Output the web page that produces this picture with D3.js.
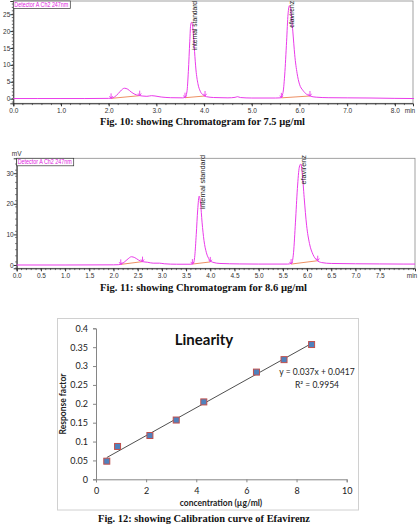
<!DOCTYPE html>
<html>
<head>
<meta charset="utf-8">
<script src="https://cdn.jsdelivr.net/npm/d3@7"></script>
<style>
body{margin:0;background:#fff;}
svg{display:block;}
</style>
</head>
<body>
<svg id="fig" width="420" height="524"></svg>
<script>

// chromatogram for 7.5 ug/ml : [time (min), signal (mV)]
var trace75=[[0,0.05],[0.5,0.05],[1.0,0.05],[1.5,0.05],[2.0,0.1],[2.05,0.15],[2.12,0.5],[2.2,1.5],[2.27,2.6],[2.33,3.1],[2.4,2.8],
	[2.47,2.0],[2.55,1.3],[2.62,1.0],[2.7,0.8],[2.8,0.7],[2.9,0.9],[2.97,0.8],[3.1,0.5],[3.3,0.3],[3.55,0.25],[3.6,0.4],
	[3.64,2],[3.67,8],[3.7,17],[3.72,22],[3.74,22.6],[3.77,20],[3.8,14],[3.83,8.5],[3.87,4.5],[3.92,2.2],[3.98,1.1],[4.05,0.6],
	[4.2,0.35],[4.5,0.25],[4.65,0.4],[4.7,0.6],[4.76,0.35],[5.0,0.2],[5.5,0.2],[5.6,0.25],[5.65,1.5],[5.69,7],[5.73,17],
	[5.76,25],[5.79,27.5],[5.82,26],[5.86,20],[5.9,13],[5.95,7.5],[6.0,4.3],[6.07,2.5],[6.15,1.3],[6.22,0.8],[6.35,0.45],
	[6.6,0.3],[7.0,0.25],[7.5,0.2],[8.0,0.1],[8.4,0.05]];
// integration start / end points
var events75=[[[2.05,0.1],[2.65,0.9]],[[3.6,0.3],[4.02,0.8]],[[5.62,0.25],[6.22,0.8]]];
var peakNames75=["internal standard","efavirenz"];
var peakTimes75=[3.79,5.84];
var xTicks75=[0,1,2,3,4,5,6,7,8];
var yTicks75=[0,5,10,15,20,25];

// chromatogram for 8.6 ug/ml
var trace86=[[0,0],[1,0],[2,0.05],[2.1,0.1],[2.15,0.2],[2.22,0.9],[2.3,2.0],[2.37,2.7],[2.44,2.4],[2.52,1.6],[2.6,1.1],
	[2.7,0.9],[2.82,0.6],[2.95,0.6],[3.05,0.4],[3.3,0.25],[3.6,0.25],[3.65,0.5],[3.68,3],[3.71,10],[3.74,18],[3.77,22.5],
	[3.8,20],[3.83,14],[3.87,8],[3.92,4],[3.98,1.8],[4.05,0.9],[4.2,0.5],[4.6,0.35],[5.0,0.3],[5.6,0.3],[5.68,0.6],[5.72,4],
	[5.76,14],[5.8,25],[5.84,32],[5.87,33],[5.9,30],[5.94,22],[5.99,13],[6.05,7],[6.12,3.5],[6.2,1.6],[6.3,0.8],[6.5,0.5],
	[7.0,0.4],[7.5,0.35],[8.0,0.3],[8.23,0.3]];
var events86=[[[2.15,0.2],[2.6,1.1]],[[3.63,0.3],[4.0,1.0]],[[5.67,0.3],[6.22,1.4]]];
var peakNames86=["internal standard","efavirenz"];
var peakTimes86=[3.83,5.93];
var xTicks86=[0,0.5,1,1.5,2,2.5,3,3.5,4,4.5,5,5.5,6,6.5,7,7.5];
var yTicks86=[0,10,20,30];

// calibration curve
var concs=[0.43,0.86,2.15,3.2,4.3,6.4,7.5,8.6];
var respFactor=[0.048,0.087,0.116,0.157,0.205,0.284,0.317,0.357];
var fitSlope=0.037, fitIntercept=0.0417;
var calXTicks=[0,2,4,6,8,10];
var calYTicks=[0,0.05,0.1,0.15,0.2,0.25,0.3,0.35,0.4];
var calYLabels=["0","0.05","0.1","0.15","0.2","0.25","0.3","0.35","0.4"];

var captions=["Fig. 10: showing Chromatogram for 7.5 µg/ml","Fig. 11: showing Chromatogram for 8.6 µg/ml","Fig. 12: showing Calibration curve of Efavirenz"];

var svg=d3.select("#fig");
var chromFont="Liberation Sans, Arial, sans-serif";
var magenta="#ea3bea";

var chromPlot=function(cfg)
	{
	var g=svg.append("g");
	var x=d3.scaleLinear().domain(cfg.xDom).range([cfg.left,cfg.right]);
	var y=d3.scaleLinear().domain(cfg.yDom).range([cfg.bottom,cfg.top]);

	g.append("rect")
		.attr("x",cfg.left).attr("y",cfg.top)
		.attr("width",cfg.right-cfg.left).attr("height",cfg.bottom-cfg.top)
		.attr("fill","none").attr("stroke","#8a8a8a").attr("stroke-width",0.8);

	// y axis
	var ya=g.append("g").attr("transform","translate("+cfg.left+",0)")
		.call(d3.axisLeft(y).tickValues(cfg.yTicks).tickSize(3).tickFormat(d3.format("d")));
	ya.select(".domain").attr("stroke","#333");
	ya.selectAll("line").attr("stroke","#333");
	ya.selectAll("text").attr("font-family",chromFont).attr("font-size",6.5).attr("fill","#333").attr("x",-3);
	var yMinor=d3.range(Math.ceil(cfg.yDom[0]),cfg.yDom[1],cfg.yMinor);
	g.selectAll(".yminor").data(yMinor).enter().append("line")
		.attr("x1",cfg.left-1.5).attr("x2",cfg.left)
		.attr("y1",function(d){return y(d);}).attr("y2",function(d){return y(d);})
		.attr("stroke","#333").attr("stroke-width",0.7);

	// x axis
	var xa=g.append("g").attr("transform","translate(0,"+cfg.bottom+")")
		.call(d3.axisBottom(x).tickValues(cfg.xTicks).tickSize(3).tickFormat(d3.format(".1f")));
	xa.select(".domain").attr("stroke","#333");
	xa.selectAll("line").attr("stroke","#333");
	xa.selectAll("text").attr("font-family",chromFont).attr("font-size",6.5).attr("fill","#333").attr("y",5);
	var xMinor=d3.range(0,cfg.xDom[1],cfg.xMinor);
	g.selectAll(".xminor").data(xMinor).enter().append("line")
		.attr("x1",function(d){return x(d);}).attr("x2",function(d){return x(d);})
		.attr("y1",cfg.bottom).attr("y2",cfg.bottom+1.8)
		.attr("stroke","#333").attr("stroke-width",0.7);
	g.append("text").attr("x",cfg.right-3).attr("y",cfg.bottom+9.5)
		.attr("text-anchor","middle").attr("font-family",chromFont).attr("font-size",6.5).attr("fill","#333").text("min");
	if(cfg.unit)
		{
		g.append("text").attr("x",cfg.left).attr("y",cfg.top-2)
			.attr("text-anchor","middle").attr("font-family",chromFont).attr("font-size",6.5).attr("fill","#333").text(cfg.unit);
		}

	// integration baselines
	g.selectAll(".ibase").data(cfg.events).enter().append("line")
		.attr("x1",function(d){return x(d[0][0]);}).attr("y1",function(d){return y(d[0][1]);})
		.attr("x2",function(d){return x(d[1][0]);}).attr("y2",function(d){return y(d[1][1]);})
		.attr("stroke","#e8743c").attr("stroke-width",0.8);

	// signal
	var line=d3.line().x(function(d){return x(d[0]);}).y(function(d){return y(d[1]);}).curve(d3.curveMonotoneX);
	g.append("path").datum(cfg.trace).attr("d",line)
		.attr("fill","none").attr("stroke",magenta).attr("stroke-width",1);

	// event markers (small down arrows)
	var pts=[];
	cfg.events.forEach(function(e){ pts.push(e[0]); pts.push(e[1]); });
	g.selectAll(".evt").data(pts).enter().append("path")
		.attr("d",function(d){
			var px=x(d[0]), py=y(d[1]);
			return "M"+px+","+(py-5)+"L"+px+","+py+"M"+(px-1.6)+","+(py-2.2)+"L"+px+","+py+"L"+(px+1.6)+","+(py-2.2);
			})
		.attr("fill","none").attr("stroke",magenta).attr("stroke-width",0.9);

	// peak names
	g.selectAll(".pname").data(cfg.peakNames).enter().append("text")
		.attr("transform",function(d,i){ return "translate("+(x(cfg.peakTimes[i])+2.5)+","+cfg.labelTop+") rotate(-90)"; })
		.attr("text-anchor","end")
		.attr("font-family",chromFont).attr("font-size",cfg.labelSize).attr("fill","#222")
		.text(function(d){return d;});

	// detector legend box
	g.append("rect").attr("x",cfg.left).attr("y",cfg.top).attr("width",57).attr("height",7.5)
		.attr("fill","#fff").attr("stroke","#333").attr("stroke-width",0.7);
	g.append("text").attr("x",cfg.left+1).attr("y",cfg.top+6)
		.attr("font-family",chromFont).attr("font-size",6.3).attr("fill","#e020e0")
		.attr("textLength",54).attr("lengthAdjust","spacingAndGlyphs")
		.text("Detector A Ch2 247nm");
	};

chromPlot({
	left:13.3, right:413, top:1, bottom:103.3,
	xDom:[0,8.38], yDom:[-1.36,28.9],
	xTicks:xTicks75, yTicks:yTicks75, xMinor:0.2, yMinor:1,
	trace:trace75, events:events75, peakNames:peakNames75, peakTimes:peakTimes75,
	labelTop:1, labelSize:6.6, unit:null
	});

chromPlot({
	left:16.7, right:415, top:158.3, bottom:268.3,
	xDom:[0,8.23], yDom:[-1.08,34.87],
	xTicks:xTicks86, yTicks:yTicks86, xMinor:0.1, yMinor:2,
	trace:trace86, events:events86, peakNames:peakNames86, peakTimes:peakTimes86,
	labelTop:155, labelSize:7.3, unit:"mV"
	});

// calibration chart
var calFont="Lato, 'Open Sans', sans-serif";
var cg=svg.append("g");
cg.append("rect").attr("x",57.5).attr("y",318.5).attr("width",301).attr("height",191.5)
	.attr("fill","#fff").attr("stroke","#d0d0d0").attr("stroke-width",1);

var cx=d3.scaleLinear().domain([0,10]).range([96,346.7]);
var cy=d3.scaleLinear().domain([0,0.4]).range([479.3,328.3]);

var cya=cg.append("g").attr("transform","translate(96,0)")
	.call(d3.axisLeft(cy).tickValues(calYTicks).tickSize(3).tickFormat(function(d,i){return calYLabels[i];}));
cya.select(".domain").attr("stroke","#868686");
cya.selectAll("line").attr("stroke","#868686");
cya.selectAll("text").attr("font-family",calFont).attr("font-size",9).attr("fill","#222").attr("x",-8);

var cxa=cg.append("g").attr("transform","translate(0,479.3)")
	.call(d3.axisBottom(cx).tickValues(calXTicks).tickSize(3).tickFormat(d3.format("d")));
cxa.select(".domain").attr("stroke","#868686");
cxa.selectAll("line").attr("stroke","#868686");
cxa.selectAll("text").attr("font-family",calFont).attr("font-size",9).attr("fill","#222").attr("y",8);

cg.append("text").attr("x",204).attr("y",344.5).attr("text-anchor","middle")
	.attr("font-family",calFont).attr("font-weight","bold").attr("font-size",15).attr("fill","#111").text("Linearity");
cg.append("text").attr("transform","translate(66,404) rotate(-90)").attr("text-anchor","middle")
	.attr("font-family",calFont).attr("font-weight","bold").attr("font-size",8.5).attr("fill","#222").text("Response factor");
cg.append("text").attr("x",221).attr("y",506).attr("text-anchor","middle")
	.attr("font-family",calFont).attr("font-weight","bold").attr("font-size",8.5).attr("fill","#222").text("concentration (µg/ml)");
cg.append("text").attr("x",317).attr("y",375).attr("text-anchor","middle")
	.attr("font-family",calFont).attr("font-size",8.5).attr("fill","#222").text("y = 0.037x + 0.0417");
cg.append("text").attr("x",317).attr("y",387.5).attr("text-anchor","middle")
	.attr("font-family",calFont).attr("font-size",8.5).attr("fill","#222").text("R² = 0.9954");

var xLo=d3.min(concs), xHi=d3.max(concs);
cg.append("line")
	.attr("x1",cx(xLo)).attr("y1",cy(fitSlope*xLo+fitIntercept))
	.attr("x2",cx(xHi)).attr("y2",cy(fitSlope*xHi+fitIntercept))
	.attr("stroke","#222").attr("stroke-width",0.8);

cg.selectAll(".pt").data(concs).enter().append("rect")
	.attr("x",function(d){return cx(d)-3;})
	.attr("y",function(d,i){return cy(respFactor[i])-3;})
	.attr("width",6).attr("height",6)
	.attr("fill","#4f81bd").attr("stroke","#c0504d").attr("stroke-width",1);

// captions
var capPos=[[202.5,125.3],[203.5,291],[204,521.5]];
var capLen=[205,207,212];
svg.selectAll(".cap").data(captions).enter().append("text")
	.attr("x",function(d,i){return capPos[i][0];}).attr("y",function(d,i){return capPos[i][1];})
	.attr("text-anchor","middle")
	.attr("font-family","Liberation Serif, serif").attr("font-weight","bold").attr("font-size",11)
	.attr("textLength",function(d,i){return capLen[i];}).attr("lengthAdjust","spacingAndGlyphs")
	.attr("fill","#111")
	.text(function(d){return d;});

</script>
</body>
</html>
